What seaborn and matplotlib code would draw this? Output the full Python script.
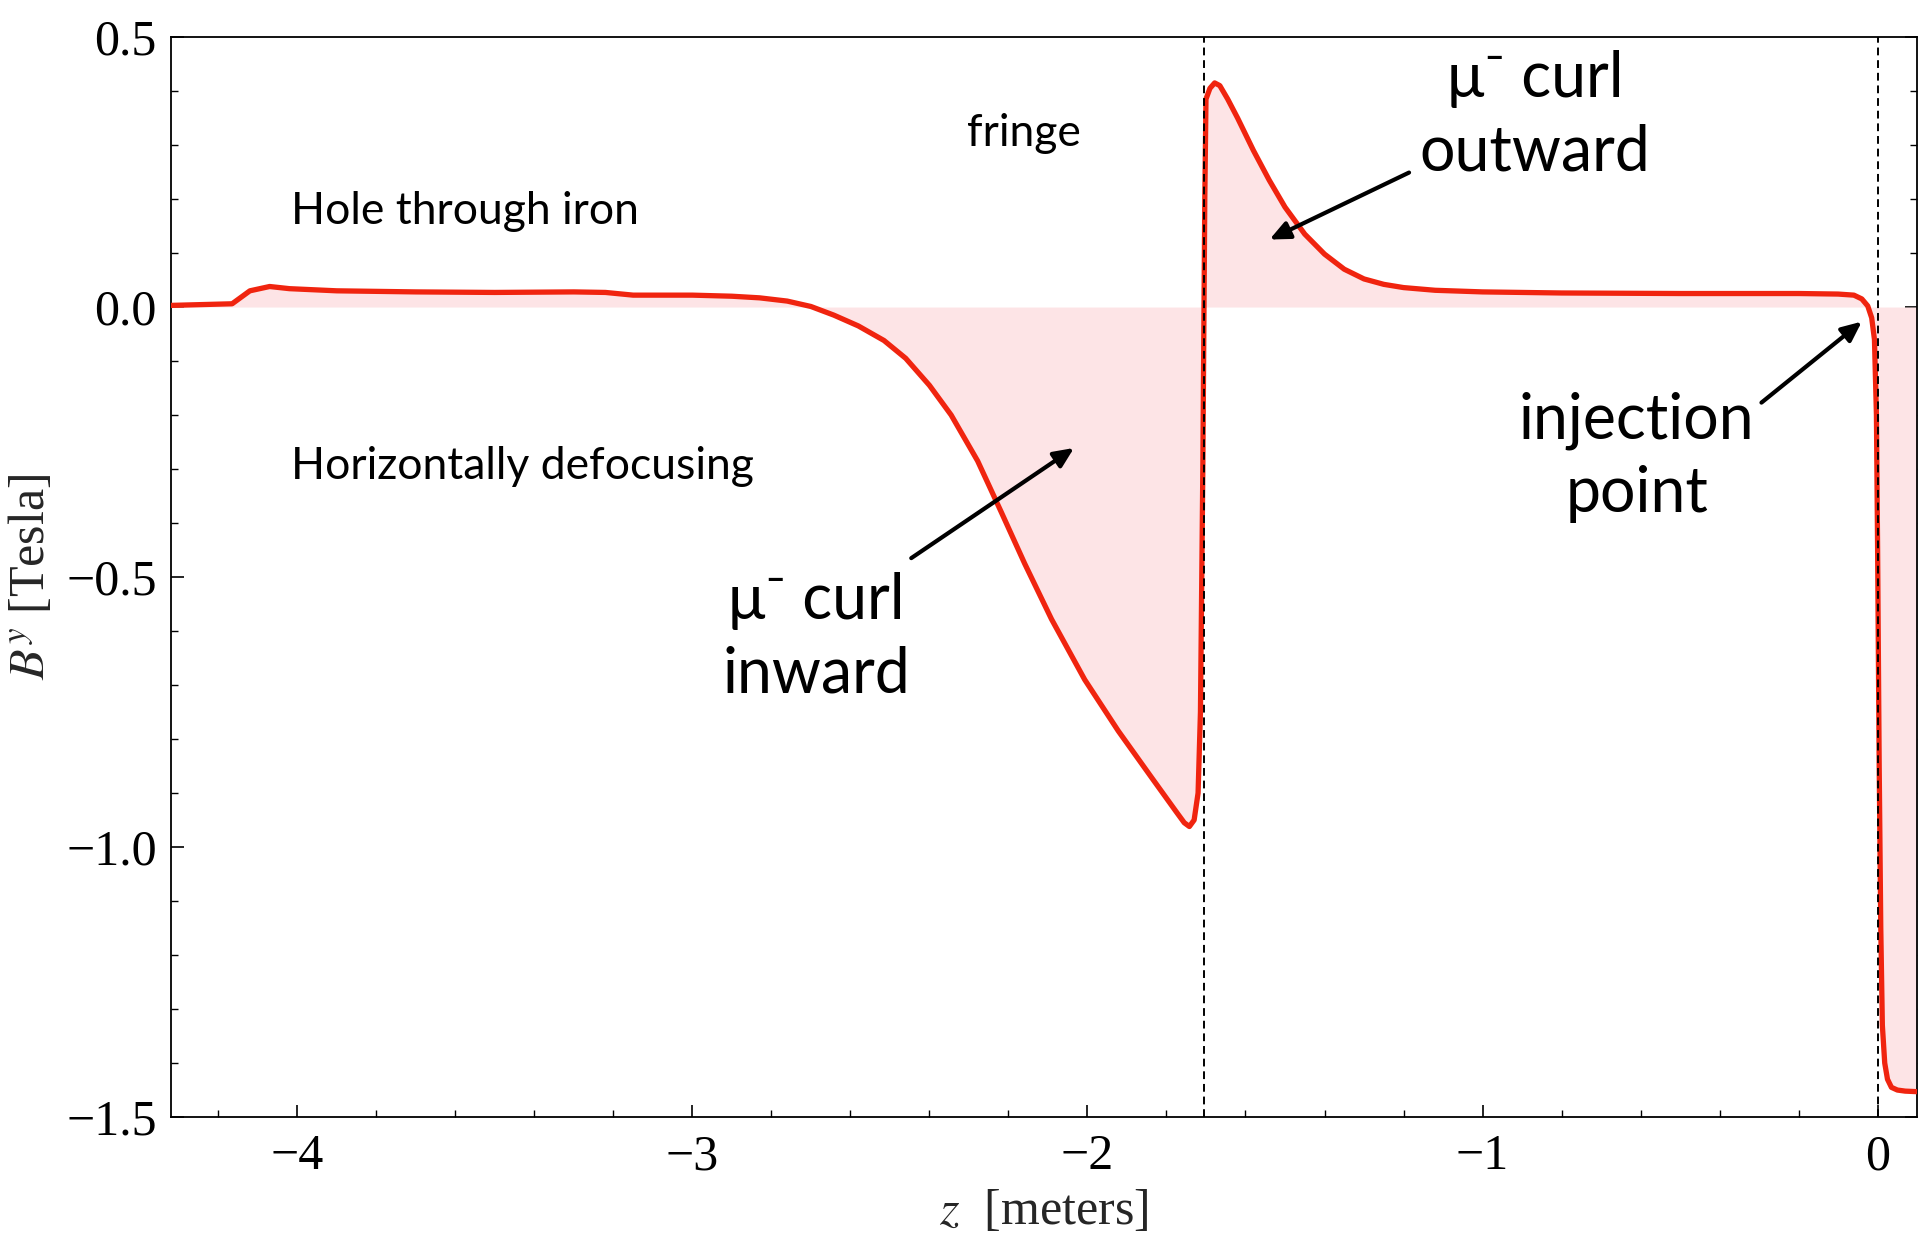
import numpy as np
import pandas as pd
import matplotlib
matplotlib.use("Agg")
import matplotlib.pyplot as plt
import seaborn as sns
from matplotlib.ticker import MultipleLocator

# ---- data ----
z_m = [-4.32, -4.165, -4.12, -4.07, -4.02, -3.9, -3.7, -3.5, -3.3, -3.22, -3.15, -3.0,
       -2.9, -2.83, -2.76, -2.70, -2.642, -2.58, -2.515, -2.46, -2.40, -2.345, -2.278, -2.218,
       -2.159, -2.091, -2.007, -1.922, -1.837, -1.775, -1.755, -1.742, -1.73,
       -1.72, -1.714, -1.708, -1.703, -1.700, -1.69, -1.678, -1.665, -1.645, -1.62,
       -1.58, -1.54, -1.50, -1.45, -1.40, -1.35, -1.30, -1.25, -1.20, -1.12, -1.0,
       -0.8, -0.5, -0.2, -0.1, -0.06, -0.04, -0.025, -0.015, -0.008, -0.003, 0.0,
       0.004, 0.008, 0.012, 0.018, 0.025, 0.035, 0.05, 0.07, 0.1]
by_tesla = [0.003, 0.006, 0.030, 0.038, 0.034, 0.030, 0.028, 0.027, 0.028, 0.027, 0.022, 0.022,
            0.020, 0.017, 0.011, 0.001, -0.015, -0.035, -0.062, -0.095, -0.145, -0.200, -0.285, -0.380,
            -0.475, -0.578, -0.690, -0.785, -0.872, -0.935, -0.955, -0.962, -0.950,
            -0.90, -0.75, -0.30, 0.20, 0.385, 0.405, 0.415, 0.410, 0.385, 0.350,
            0.290, 0.235, 0.185, 0.135, 0.098, 0.070, 0.052, 0.042, 0.036, 0.031, 0.028,
            0.026, 0.025, 0.025, 0.024, 0.022, 0.015, 0.002, -0.020, -0.06, -0.20, -0.45,
            -0.85, -1.15, -1.33, -1.40, -1.43, -1.445, -1.45, -1.452, -1.453]

boundaries = [-1.705, 0.0]

xticks = [-4, -3, -2, -1, 0]
yticks = [0.5, 0.0, -0.5, -1.0, -1.5]

annotations = [
    ("μ⁻ curl\ninward", (-2.687, -0.612), (-2.446, -0.465), (-2.034, -0.261)),
    ("μ⁻ curl\noutward", (-0.867, 0.354), (-1.186, 0.249), (-1.539, 0.125)),
    ("injection\npoint", (-0.61, -0.279), (-0.294, -0.177), (-0.040, -0.027)),
]
small_labels = [
    ("fringe", (-2.16, 0.322), "center"),
    ("Hole through iron", (-4.015, 0.177), "left"),
    ("Horizontally defocusing", (-4.015, -0.295), "left"),
]

df = pd.DataFrame({"z": z_m, "By": by_tesla})

sns.set_theme(style="white")
plt.rcParams["font.family"] = ["Liberation Serif", "DejaVu Serif"]
plt.rcParams["mathtext.fontset"] = "stix"

fig = plt.figure(figsize=(19.2, 12.38), dpi=100)
ax = fig.add_axes([0.089, 0.0977, 0.9095, 0.8724])

ax.fill_between(df["z"], df["By"], 0, color="#fde4e6", linewidth=0, zorder=1)
sns.lineplot(data=df, x="z", y="By", ax=ax, color="#f0240f", linewidth=3.8,
             sort=False, zorder=3, legend=False)
for b in boundaries:
    ax.axvline(b, color="black", linestyle=(0, (4, 2.5)), linewidth=1.4, zorder=4)

ax.set_xlim(-4.32, 0.1)
ax.set_ylim(-1.5, 0.5)
ax.set_xticks(xticks)
ax.set_xticklabels(["−4", "−3", "−2", "−1", "0"])
ax.set_yticks(yticks)
ax.set_yticklabels(["0.5", "0.0", "−0.5", "−1.0", "−1.5"])
ax.xaxis.set_minor_locator(MultipleLocator(0.2))
ax.yaxis.set_minor_locator(MultipleLocator(0.1))
ax.tick_params(axis="both", which="both", direction="in", labelsize=36, colors="black")
ax.tick_params(axis="x", which="major", length=9, width=1.2, bottom=True, top=False, pad=12)
ax.tick_params(axis="x", which="minor", length=5, width=1.0, bottom=True, top=False)
ax.tick_params(axis="y", which="major", length=9, width=1.2, left=True, right=True, pad=10)
ax.tick_params(axis="y", which="minor", length=5, width=1.0, left=True, right=True)
for s in ax.spines.values():
    s.set_color("black")
    s.set_linewidth(1.3)

ax.set_xlabel(r"$z$  [meters]", fontsize=36, labelpad=6)
ax.set_ylabel(r"$B^y$ [Tesla]", fontsize=36, labelpad=8)

for txt, (x, y), ha in small_labels:
    ax.text(x, y, txt, fontsize=32, ha=ha, va="center",
            family=["Lato", "DejaVu Sans"], color="black", zorder=5)

for txt, (x, y), (tx, ty), (hx, hy) in annotations:
    ax.text(x, y, txt, fontsize=45, ha="center", va="center", linespacing=1.32,
            family=["Lato", "DejaVu Sans"], color="black", zorder=5)
    ax.annotate("", xy=(hx, hy), xytext=(tx, ty),
                arrowprops=dict(arrowstyle="-|>,head_length=1.0,head_width=0.45",
                                color="black", lw=3.0, shrinkA=0, shrinkB=0), zorder=5)

fig.savefig("out.png", dpi=100)
